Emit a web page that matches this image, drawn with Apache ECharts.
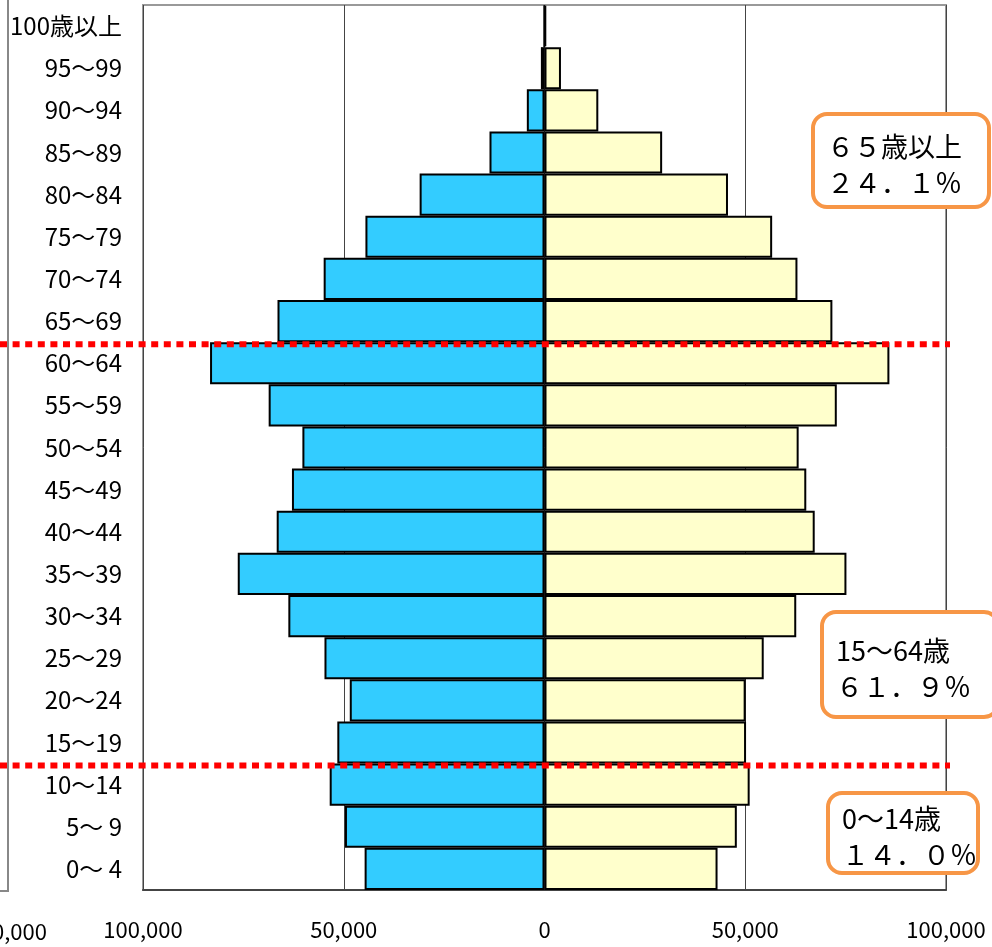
<!DOCTYPE html>
<html>
<head>
<meta charset="utf-8">
<script src="https://cdn.jsdelivr.net/npm/echarts@6/dist/echarts.min.js"></script>
<style>
  html, body { margin: 0; padding: 0; background: #fff; }
  #chart { width: 992px; height: 947px; }
</style>
</head>
<body>
<div id="chart"></div>
<script>
// age groups, bottom to top
const ages = ['0～ 4', '5～ 9', '10～14', '15～19', '20～24', '25～29', '30～34',
    '35～39', '40～44', '45～49', '50～54', '55～59', '60～64', '65～69',
    '70～74', '75～79', '80～84', '85～89', '90～94', '95～99', '100歳以上'];
const male = [44800, 49700, 53500, 51600, 48500, 54800, 63800, 76400, 66700, 62900,
    60300, 68700, 83300, 66500, 55000, 44600, 31100, 13700, 4400, 900, 100];
const female = [43100, 47900, 51100, 50200, 50100, 54600, 62700, 75200, 67300, 65200,
    63300, 72800, 85900, 71700, 63000, 56700, 45700, 29300, 13400, 4100, 400];
const xTicks = [-100000, -50000, 0, 50000, 100000];

// group boxes: [line1, line2, box x, y, w, h]
const groupBoxes = [
    ['６５歳以上', '２４．１％', 813, 114, 176, 93],
    ['15～64歳', '６１．９％', 822, 612, 176, 105],
    ['0～14歳', '１４．０％', 828, 793, 150, 80]
];
// red dotted dividers sit between these age groups
const dividers = [['60～64', '65～69'], ['10～14', '15～19']];

const FONT = '"Noto Sans CJK JP", "Noto Sans", sans-serif';

const chart = echarts.init(document.getElementById('chart'));

function fmt (v) {
    return Math.abs(v).toLocaleString('en-US');
}

const option = {
    animation: false,
    backgroundColor: '#fff',
    grid: {
        left: 143,
        right: 46,
        top: 5,
        bottom: 57,
        show: true,
        borderColor: '#999',
        borderWidth: 2
    },
    xAxis: {
        type: 'value',
        min: xTicks[0],
        max: xTicks[xTicks.length - 1],
        interval: 50000,
        axisLine: { show: true, lineStyle: { color: '#444', width: 2 } },
        axisTick: { show: false },
        splitLine: { show: true, lineStyle: { color: '#444', width: 1 } },
        axisLabel: {
            formatter: fmt,
            color: '#000',
            fontFamily: FONT,
            fontSize: 22,
            margin: 29
        }
    },
    yAxis: {
        type: 'category',
        data: ages,
        axisLine: { show: false },
        axisTick: { show: false },
        axisLabel: {
            color: '#000',
            fontFamily: FONT,
            fontSize: 24,
            margin: 21,
            padding: [7, 0, 0, 0]
        }
    },
    series: [
        {
            name: '男',
            type: 'bar',
            data: male.map(v => -v),
            barGap: '-100%',
            barCategoryGap: 0,
            itemStyle: { color: '#33CCFF', borderColor: '#000', borderWidth: 2 }
        },
        {
            name: '女',
            type: 'bar',
            data: female,
            barGap: '-100%',
            barCategoryGap: 0,
            itemStyle: { color: '#FFFFCC', borderColor: '#000', borderWidth: 2 }
        }
    ]
};
chart.setOption(option);

// overlays: dividers, group boxes and the clipped neighbour panel on the left
const graphics = [];
const rightEdge = chart.convertToPixel({ xAxisIndex: 0 }, xTicks[xTicks.length - 1]);
dividers.forEach(function (pair) {
    const y = (chart.convertToPixel({ yAxisIndex: 0 }, pair[0]) +
        chart.convertToPixel({ yAxisIndex: 0 }, pair[1])) / 2;
    graphics.push({
        type: 'line',
        z: 100,
        shape: { x1: 0, y1: y + 2, x2: rightEdge + 4, y2: y + 2 },
        style: { stroke: '#FF0000', lineWidth: 6, lineDash: [7, 5.6] }
    });
});
groupBoxes.forEach(function (b) {
    graphics.push({
        type: 'rect',
        z: 110,
        shape: { x: b[2], y: b[3], width: b[4], height: b[5], r: 14 },
        style: { fill: '#fff', stroke: '#F79646', lineWidth: 4 }
    });
    graphics.push({
        type: 'text',
        z: 111,
        x: b[2] + 14,
        y: b[3] + b[5] / 2 - 14,
        style: { text: b[0], font: '27px ' + FONT, fill: '#000', verticalAlign: 'middle' }
    });
    graphics.push({
        type: 'text',
        z: 111,
        x: b[2] + 14,
        y: b[3] + b[5] / 2 + 22,
        style: { text: b[1], font: '27px ' + FONT, fill: '#000', verticalAlign: 'middle' }
    });
});
graphics.push({
    type: 'polyline',
    shape: { points: [[8, 0], [8, 891], [-2, 891]] },
    style: { stroke: '#888', lineWidth: 2, fill: null }
});
graphics.push({
    type: 'text',
    x: 47,
    y: 932,
    style: { text: fmt(xTicks[xTicks.length - 1]), font: '22px ' + FONT, fill: '#000',
        align: 'right', verticalAlign: 'middle' }
});
chart.setOption({ graphic: graphics });
</script>
</body>
</html>
